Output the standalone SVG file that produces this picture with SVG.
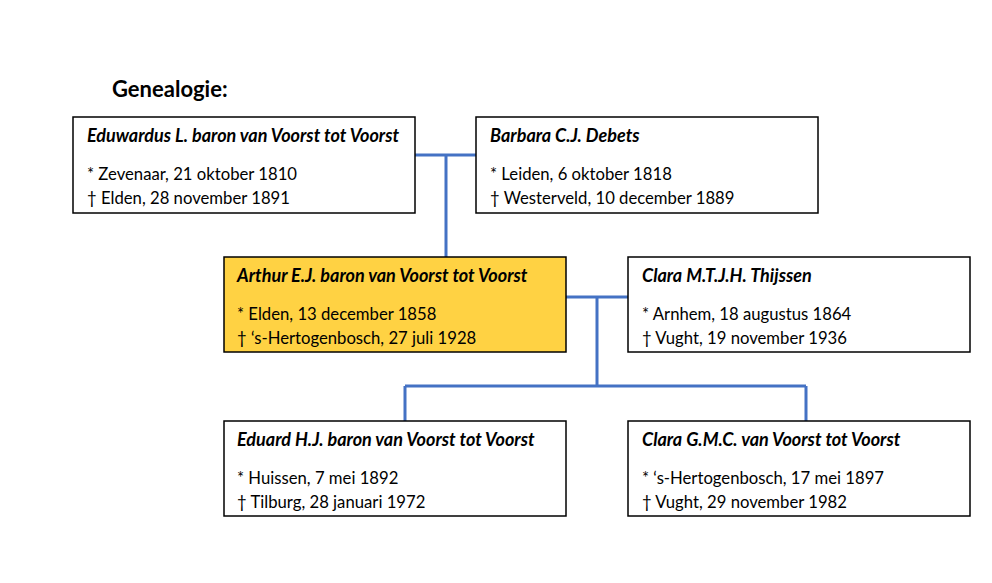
<svg xmlns="http://www.w3.org/2000/svg" width="992" height="583" viewBox="0 0 992 583">
<style>
.box{fill:#fff;stroke:#000;stroke-width:1.5}
.hl{fill:#FFD243}
.name{font-family:Lato,"Liberation Sans",sans-serif;font-size:18px;font-weight:bold;font-style:italic;fill:#000}
.txt{font-family:Lato,"Liberation Sans",sans-serif;font-size:16.7px;fill:#000}
.title{font-family:Lato,"Liberation Sans",sans-serif;font-size:22px;font-weight:bold;fill:#000}
.con{fill:none;stroke:#4472C4;stroke-width:3}
</style>
<rect width="992" height="583" fill="#fff"/>
<text class="title" x="112" y="97">Genealogie:</text>
<g id="connectors">
<path class="con" d="M415 155H476M446 155V258"/>
<path class="con" d="M566 297H628M597 297V386M405 386H806M405 386V421M806 386V421"/>
</g>
<g id="eduwardus">
<rect class="box" x="73" y="117" width="342" height="96"/>
<text class="name" x="87" y="142">Eduwardus L. baron van Voorst tot Voorst</text>
<text class="txt" x="87" y="180">* Zevenaar, 21 oktober 1810</text>
<text class="txt" x="87" y="204">† Elden, 28 november 1891</text>
</g>
<g id="barbara">
<rect class="box" x="476" y="117" width="342" height="96"/>
<text class="name" x="490" y="142">Barbara C.J. Debets</text>
<text class="txt" x="490" y="180">* Leiden, 6 oktober 1818</text>
<text class="txt" x="490" y="204">† Westerveld, 10 december 1889</text>
</g>
<g id="arthur">
<rect class="box hl" x="224" y="257" width="342" height="95"/>
<text class="name" x="237" y="282">Arthur E.J. baron van Voorst tot Voorst</text>
<text class="txt" x="237" y="320">* Elden, 13 december 1858</text>
<text class="txt" x="237" y="344">† ‘s-Hertogenbosch, 27 juli 1928</text>
</g>
<g id="clara-thijssen">
<rect class="box" x="628" y="257" width="342" height="95"/>
<text class="name" x="642" y="282">Clara M.T.J.H. Thijssen</text>
<text class="txt" x="642" y="320">* Arnhem, 18 augustus 1864</text>
<text class="txt" x="642" y="344">† Vught, 19 november 1936</text>
</g>
<g id="eduard">
<rect class="box" x="224" y="421" width="342" height="95"/>
<text class="name" x="237" y="446">Eduard H.J. baron van Voorst tot Voorst</text>
<text class="txt" x="237" y="484">* Huissen, 7 mei 1892</text>
<text class="txt" x="237" y="508">† Tilburg, 28 januari 1972</text>
</g>
<g id="clara-voorst">
<rect class="box" x="628" y="421" width="342" height="95"/>
<text class="name" x="642" y="446">Clara G.M.C. van Voorst tot Voorst</text>
<text class="txt" x="642" y="484">* ‘s-Hertogenbosch, 17 mei 1897</text>
<text class="txt" x="642" y="508">† Vught, 29 november 1982</text>
</g>
</svg>
